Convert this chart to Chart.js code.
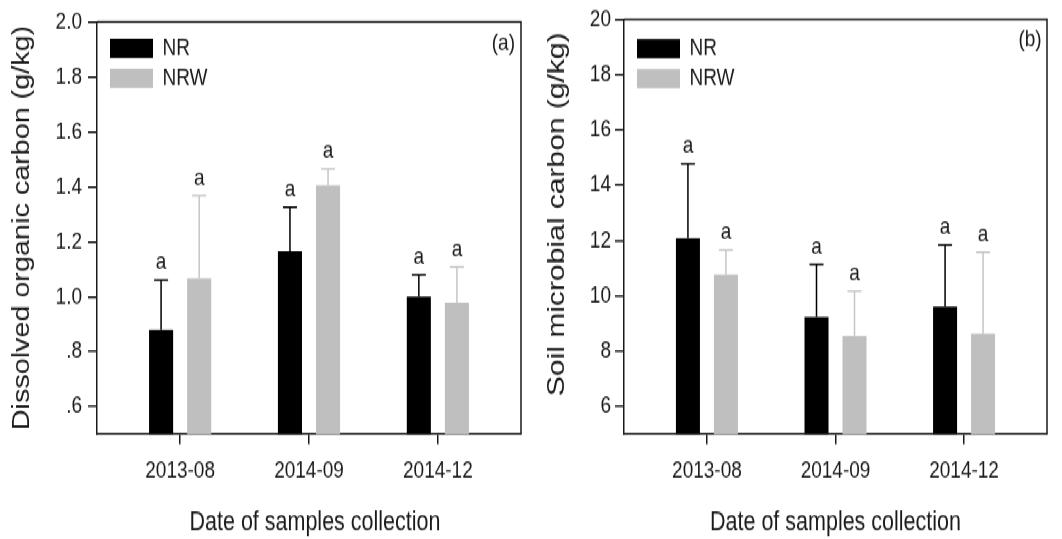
<!DOCTYPE html>
<html>
<head>
<meta charset="utf-8">
<script src="https://cdn.jsdelivr.net/npm/chart.js@4.4.1/dist/chart.umd.min.js"></script>
<style>
  html, body { margin: 0; padding: 0; background: #fff; }
  body { width: 1062px; height: 539px; }
  /* the figure is laid out at 1062x431 and shown stretched to 539px tall */
  #figure { width: 1062px; height: 431px; display: flex; transform: scaleY(1.25058); transform-origin: 0 0; }
  canvas { display: block; }
</style>
</head>
<body>
<div id="figure">
  <canvas id="docChart" width="531" height="431"></canvas>
  <canvas id="mbcChart" width="531" height="431"></canvas>
</div>
<script>
// Sampling dates
const categories = ['2013-08', '2014-09', '2014-12'];

// (a) Dissolved organic carbon, g/kg: means and standard errors
const docNR = [0.88, 1.165, 1.00];
const docNRErr = [0.18, 0.16, 0.08];
const docNRW = [1.067, 1.405, 0.978];
const docNRWErr = [0.30, 0.06, 0.13];
const docNRSig = ['a', 'a', 'a'];
const docNRWSig = ['a', 'a', 'a'];
const docTicks = [0.6, 0.8, 1.0, 1.2, 1.4, 1.6, 1.8, 2.0];
const docTickLabels = ['.6', '.8', '1.0', '1.2', '1.4', '1.6', '1.8', '2.0'];

// (b) Soil microbial carbon, g/kg: means and standard errors
const mbcNR = [12.08, 9.24, 9.61];
const mbcNRErr = [2.69, 1.89, 2.23];
const mbcNRW = [10.77, 8.55, 8.64];
const mbcNRWErr = [0.89, 1.62, 2.93];
const mbcNRSig = ['a', 'a', 'a'];
const mbcNRWSig = ['a', 'a', 'a'];
const mbcTicks = [6, 8, 10, 12, 14, 16, 18, 20];
const mbcTickLabels = ['6', '8', '10', '12', '14', '16', '18', '20'];

const FONT = '"Liberation Sans", Arial, Helvetica, sans-serif';
const INK = '#1a1a1a';
Chart.defaults.font.family = FONT;
Chart.defaults.color = INK;

// Error bars with caps plus the significance letter above each one
const errorBars = {
  id: 'errorBars',
  afterDatasetsDraw(chart) {
    const ctx = chart.ctx;
    const yScale = chart.scales.y;
    chart.data.datasets.forEach((ds, di) => {
      const meta = chart.getDatasetMeta(di);
      meta.data.forEach((bar, i) => {
        const top = yScale.getPixelForValue(ds.data[i].y + ds.errors[i]);
        ctx.save();
        ctx.strokeStyle = ds.errorColor;
        ctx.lineWidth = 1.5;
        ctx.beginPath();
        ctx.moveTo(bar.x, bar.y);
        ctx.lineTo(bar.x, top);
        ctx.moveTo(bar.x - 7, top);
        ctx.lineTo(bar.x + 7, top);
        ctx.stroke();
        ctx.fillStyle = INK;
        ctx.font = '19px ' + FONT;
        ctx.textAlign = 'center';
        ctx.textBaseline = 'alphabetic';
        ctx.fillText(ds.letters[i], bar.x, top - 9);
        ctx.restore();
      });
    });
  }
};

// Top and right edges of the plot frame, and the panel tag in the corner
const frame = {
  id: 'frame',
  afterDraw(chart, args, opts) {
    const { ctx, chartArea: a } = chart;
    ctx.save();
    ctx.strokeStyle = INK;
    ctx.lineWidth = 1.5;
    ctx.beginPath();
    ctx.moveTo(a.left, a.top);
    ctx.lineTo(a.right, a.top);
    ctx.lineTo(a.right, a.bottom);
    ctx.stroke();
    ctx.fillStyle = INK;
    ctx.font = '19px ' + FONT;
    ctx.textAlign = 'right';
    ctx.textBaseline = 'middle';
    ctx.fillText(opts.text, a.right - opts.dx, a.top + opts.dy);
    ctx.restore();
  }
};

// Places the legend in the upper-left corner of the plot area
const legendPlace = {
  id: 'legendPlace',
  afterLayout(chart, args, opts) {
    const lg = chart.legend, a = chart.chartArea;
    if (!lg) return;
    lg.left = a.left + opts.dx;
    lg.top = a.top + opts.dy;
    lg.right = a.right;
    lg.bottom = a.bottom;
  }
};

function makeChart(id, cfg) {
  return new Chart(document.getElementById(id), {
    type: 'bar',
    data: {
      datasets: [
        {
          label: 'NR',
          data: cfg.nr.map((v, i) => ({ x: i, y: v })),
          errors: cfg.nrErr, letters: cfg.nrSig, errorColor: '#000000',
          backgroundColor: '#000000', borderWidth: 0
        },
        {
          label: 'NRW',
          data: cfg.nrw.map((v, i) => ({ x: i, y: v })),
          errors: cfg.nrwErr, letters: cfg.nrwSig, errorColor: '#c6c6c6',
          backgroundColor: '#bfbfbf', borderWidth: 0
        }
      ]
    },
    options: {
      responsive: false,
      animation: false,
      devicePixelRatio: 1,
      events: [],
      layout: { padding: { left: 0, right: cfg.padRight, top: 12.8, bottom: 0 } },
      datasets: { bar: { categoryPercentage: 0.591, barPercentage: 0.632 } },
      scales: {
        x: {
          type: 'linear',
          min: -0.645, max: 2.645,
          offset: false,
          grid: { display: true, drawOnChartArea: false, drawTicks: true, tickLength: 8, offset: false, color: INK, lineWidth: 1.5 },
          border: { display: true, color: INK, width: 1.5 },
          afterBuildTicks: s => { s.ticks = categories.map((_, i) => ({ value: i })); },
          ticks: {
            callback: (v, i) => categories[i],
            font: { size: 19 }, color: INK, padding: 10, maxRotation: 0, autoSkip: false
          },
          title: { display: true, text: cfg.xTitle, font: { size: 21.5 }, color: INK, padding: 0 },
          afterFit: s => { s.height = 83.8; }
        },
        y: {
          min: cfg.yMin, max: cfg.yMax,
          beginAtZero: false,
          grid: { display: true, drawOnChartArea: false, drawTicks: true, tickLength: 9, color: INK, lineWidth: 1.5 },
          border: { display: true, color: INK, width: 1.5 },
          afterBuildTicks: s => { s.ticks = cfg.yTicks.map(v => ({ value: v })); },
          ticks: {
            callback: (v, i) => cfg.yLabels[i],
            font: { size: 19 }, color: INK, padding: cfg.tickPad
          },
          title: { display: true, text: cfg.yTitle, font: { size: cfg.yTitleSize }, color: INK, padding: { top: cfg.yTitlePad, bottom: 0 } },
          afterFit: s => { s.width = cfg.yAxisWidth; }
        }
      },
      plugins: {
        legend: {
          position: 'chartArea',
          align: 'start',
          labels: { boxWidth: 43, boxHeight: 15.2, padding: 5, font: { size: 19 }, color: INK }
        },
        tooltip: { enabled: false },
        frame: { text: cfg.tag, dx: cfg.tagDx, dy: cfg.tagDy },
        legendPlace: { dx: 8, dy: cfg.legendDy }
      }
    },
    plugins: [errorBars, frame, legendPlace]
  });
}

makeChart('docChart', {
  nr: docNR, nrErr: docNRErr, nrSig: docNRSig,
  nrw: docNRW, nrwErr: docNRWErr, nrwSig: docNRWSig,
  yMin: 0.5, yMax: 2.0, yTicks: docTicks, yLabels: docTickLabels,
  // leading spaces nudge the axis title slightly right of the axis centre
  xTitle: '  Date of samples collection',
  yTitle: 'Dissolved organic carbon (g/kg)', yTitleSize: 23, yTitlePad: 9,
  yAxisWidth: 97, padRight: 10, tickPad: 6,
  tag: '(a)', tagDx: 6, tagDy: 17.6, legendDy: 6.7
});

makeChart('mbcChart', {
  nr: mbcNR, nrErr: mbcNRErr, nrSig: mbcNRSig,
  nrw: mbcNRW, nrwErr: mbcNRWErr, nrwSig: mbcNRWSig,
  yMin: 5, yMax: 20, yTicks: mbcTicks, yLabels: mbcTickLabels,
  xTitle: 'Date of samples collection',
  // leading spaces lift the rotated title a little above the axis centre
  yTitle: '   Soil microbial carbon (g/kg)', yTitleSize: 24, yTitlePad: 12,
  yAxisWidth: 93, padRight: 15, tickPad: 4,
  tag: '(b)', tagDx: 5.3, tagDy: 16, legendDy: 8.9
});
</script>
</body>
</html>
